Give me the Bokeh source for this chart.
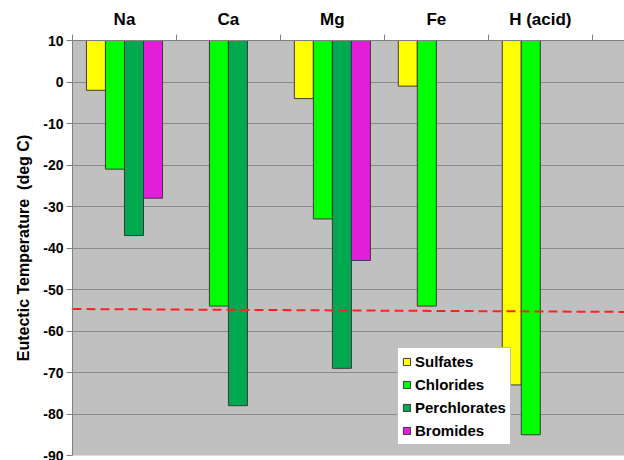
from bokeh.plotting import figure
from bokeh.models import ColumnDataSource, FixedTicker, Range1d, Legend, LegendItem
from bokeh.embed import file_html
from bokeh.resources import INLINE

categories = ["Na", "Ca", "Mg", "Fe", "H (acid)"]
series_names = ["Sulfates", "Chlorides", "Perchlorates", "Bromides"]
sulfates = [-2, None, -4, -1, -73]
chlorides = [-21, -54, -33, -54, -85]
perchlorates = [-37, -78, -69, None, None]
bromides = [-28, None, -43, None, None]
series_values = [sulfates, chlorides, perchlorates, bromides]
colors = ["#FFFF00", "#00FF00", "#00A850", "#E21ED8"]
y_ticks = list(range(-90, 11, 10))
y_tick_labels = [str(t) for t in y_ticks]
bar_top = 10
ref_left, ref_right = -54.7, -55.4

FONT = "Liberation Sans"
x_max = 5.31
bar_w = 0.183

p = figure(width=624, height=460, x_range=Range1d(0, x_max), y_range=Range1d(-90, 10),
           output_backend="svg", toolbar_location=None, x_axis_location="above",
           min_border_left=72, min_border_right=0, min_border_top=40, min_border_bottom=5,
           background_fill_color="#C0C0C0", border_fill_color="white", outline_line_color=None)

# top axis
xa = p.xaxis[0]
xa.ticker = FixedTicker(ticks=[i + 0.5 for i in range(len(categories))],
                        minor_ticks=list(range(len(categories) + 1)))
xa.major_label_overrides = {i + 0.5: c for i, c in enumerate(categories)}
xa.major_tick_out = 0
xa.major_tick_in = 0
xa.minor_tick_out = 6
xa.minor_tick_in = 0
xa.minor_tick_line_color = "#808080"
xa.axis_line_color = "#808080"
xa.major_label_text_font = FONT
xa.major_label_text_font_style = "bold"
xa.major_label_text_font_size = "17px"
xa.major_label_text_color = "black"
xa.major_label_standoff = 6

ya = p.yaxis[0]
ya.ticker = FixedTicker(ticks=y_ticks, minor_ticks=[])
ya.major_label_overrides = {t: s for t, s in zip(y_ticks, y_tick_labels)}
ya.major_tick_out = 6
ya.major_tick_in = 0
ya.major_tick_line_color = "#808080"
ya.axis_line_color = "#808080"
ya.major_label_text_font = FONT
ya.major_label_text_font_style = "bold"
ya.major_label_text_font_size = "14px"
ya.major_label_text_color = "black"
ya.major_label_standoff = 3
ya.axis_label = "Eutectic Temperature \u00a0(deg C)"
ya.axis_label_text_font = FONT
ya.axis_label_text_font_style = "bold"
ya.axis_label_text_font_size = "16px"
ya.axis_label_text_color = "black"
ya.axis_label_standoff = 8

p.xgrid.grid_line_color = None
p.ygrid.grid_line_color = "#8A8A8A"
p.ygrid.grid_line_width = 1

renderers = []
for j, (name, vals, col) in enumerate(zip(series_names, series_values, colors)):
    xs, bots = [], []
    for i, v in enumerate(vals):
        if v is not None:
            xs.append(i + 0.5 + (j - 1.5) * bar_w)
            bots.append(v)
    src = ColumnDataSource(dict(x=xs, bottom=bots, top=[bar_top] * len(xs)))
    r = p.vbar(x="x", top="top", bottom="bottom", width=bar_w, source=src,
               fill_color=col, line_color="#3A3A3A", line_width=1)
    renderers.append((name, r))

p.segment(x0=[0], y0=[ref_left], x1=[x_max], y1=[ref_right],
          line_color="#FF2020", line_width=2, line_dash="9 5")

legend = Legend(items=[LegendItem(label=n, renderers=[r]) for n, r in renderers],
                location=(325, 10), orientation="vertical")
legend.background_fill_color = "white"
legend.background_fill_alpha = 1
legend.border_line_color = "#808080"
legend.border_line_width = 1
legend.label_text_font = FONT
legend.label_text_font_style = "bold"
legend.label_text_font_size = "15px"
legend.label_text_color = "black"
legend.glyph_width = 9
legend.glyph_height = 9
legend.label_standoff = 4
legend.label_height = 19
legend.spacing = 4
legend.padding = 4
legend.margin = 0
p.add_layout(legend)

open("out.html", "w").write(file_html(p, INLINE))
